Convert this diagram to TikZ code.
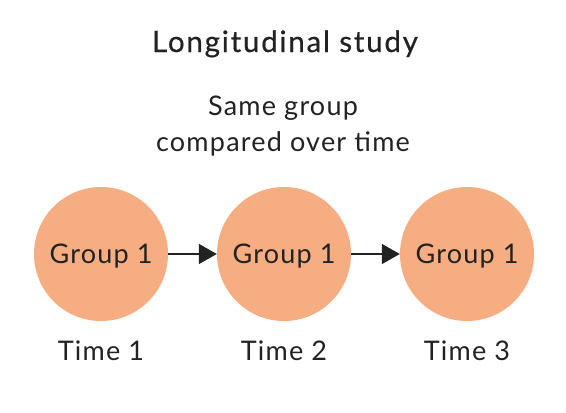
\documentclass[tikz,border=0pt]{standalone}
\usepackage{fontspec}
\setmainfont{Lato}
\newfontfamily\bodyfont[LetterSpace=4.5]{Lato}
\newfontfamily\headfont[LetterSpace=6, FakeBold=0.5]{Lato}
\usetikzlibrary{arrows.meta, positioning}

\definecolor{groupfill}{HTML}{F6AD82}
\definecolor{inkdark}{HTML}{222222}

\tikzset{
    groupcircle/.style={circle, fill=groupfill, minimum size=134pt, inner sep=0pt, text depth=0pt, text=inkdark, font=\bodyfont\fontsize{27}{32}\selectfont},
    timelabel/.style={text=inkdark, font=\bodyfont\fontsize{27}{32}\selectfont},
    steparrow/.style={draw=inkdark, line width=1.5pt, -{Triangle[length=18pt, width=20pt]}}
}

\begin{document}
\begin{tikzpicture}[x=1pt, y=-1pt]
        \useasboundingbox (0,0) rectangle (566,413);

        \node[text=inkdark, anchor=base, font=\headfont\fontsize{29.5}{34}\selectfont] (title) at (285,52) {Longitudinal study};
        \node[text=inkdark, anchor=base, align=center, font=\bodyfont\fontsize{27}{36}\selectfont] (subtitle) at (283,151) {Same group\\compared over time};

        \node[groupcircle] (g1) at (101,254) {Group 1};
        \node[groupcircle] (g2) at (284,254) {Group 1};
        \node[groupcircle] (g3) at (467,254) {Group 1};

        \node[timelabel, below=16pt of g1] (t1) {Time 1};
        \node[timelabel, below=16pt of g2] (t2) {Time 2};
        \node[timelabel, below=16pt of g3] (t3) {Time 3};

        \draw[steparrow] (g1) -- (g2);
        \draw[steparrow] (g2) -- (g3);
    \end{tikzpicture}
\end{document}
